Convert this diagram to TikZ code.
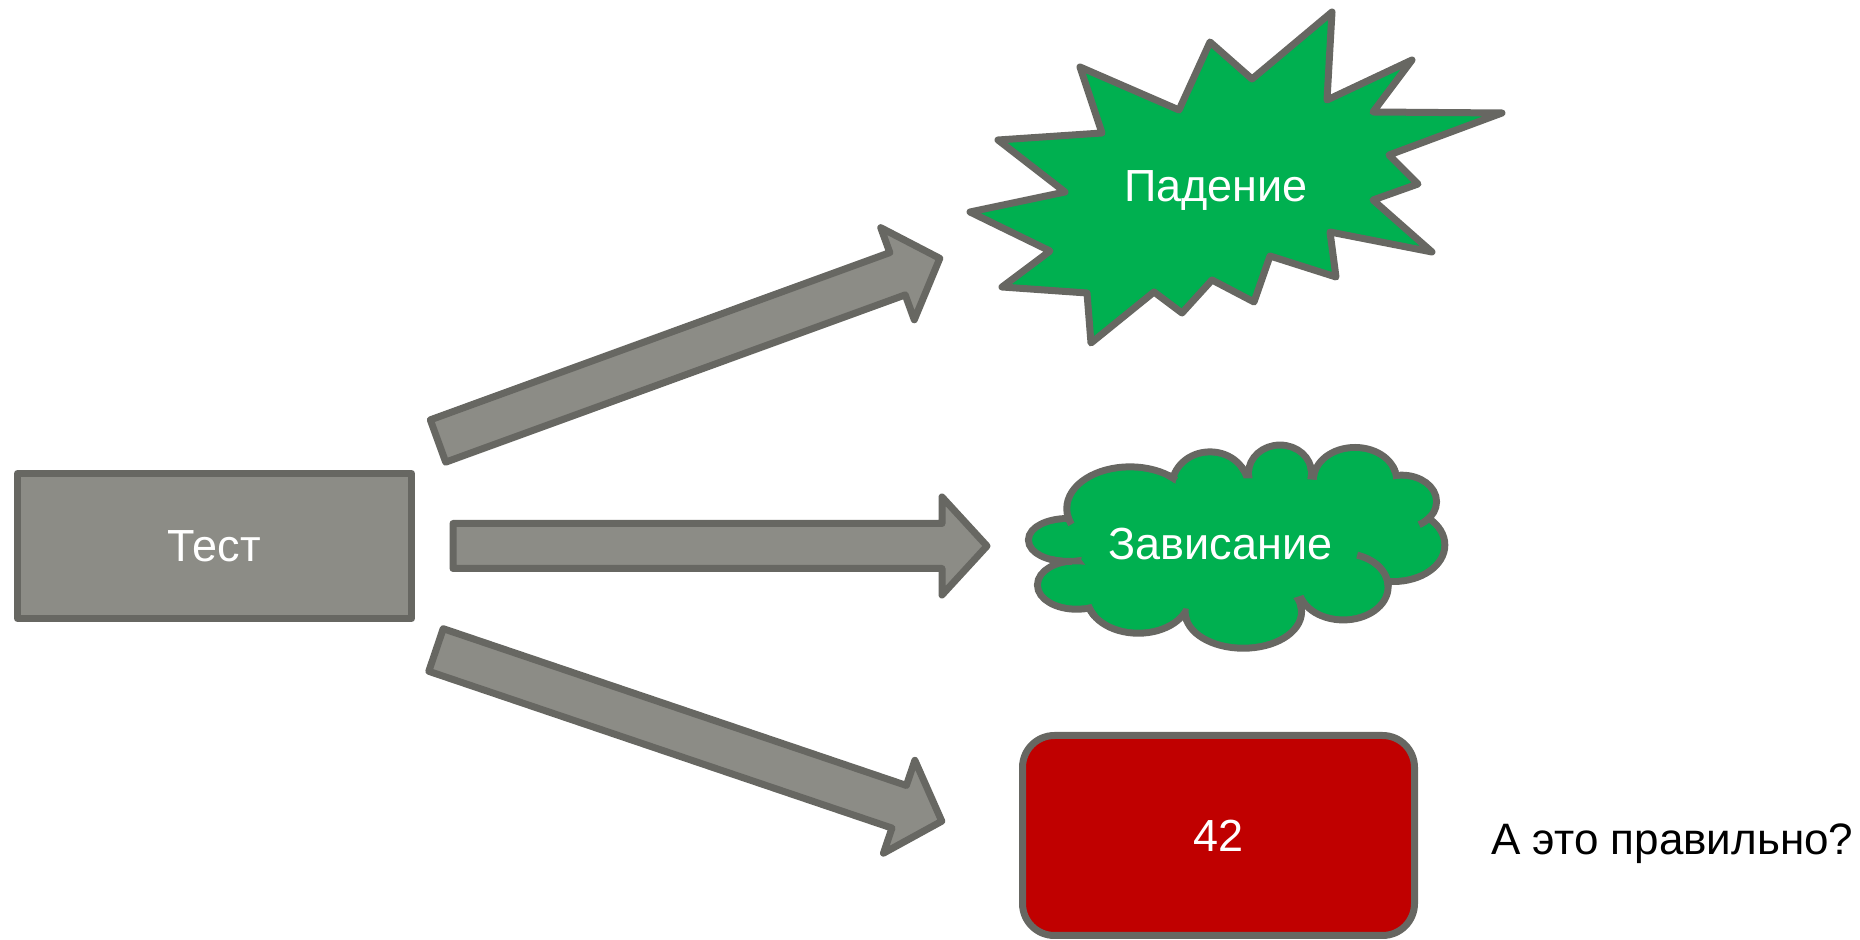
\documentclass[tikz,border=0pt]{standalone}
\usepackage{fontspec}
\setmainfont{Liberation Sans}
\definecolor{linegray}{HTML}{676762}
\definecolor{boxgray}{HTML}{8C8C86}
\definecolor{okgreen}{HTML}{00B050}
\definecolor{errred}{HTML}{C00000}
\newcommand\lbl{\fontsize{22.5pt}{27pt}\selectfont}
\newcommand\qlbl{\fontsize{22pt}{26pt}\selectfont}
\begin{document}
\begin{tikzpicture}[x=0.5pt,y=-0.5pt,
  outl/.style={draw=linegray, line width=3.5pt, line join=round},
  graybox/.style={outl, fill=boxgray, rectangle, minimum width=197pt, minimum height=72.5pt, inner sep=0pt, text=white, font=\lbl},
  redbox/.style={outl, fill=errred, rectangle, rounded corners=16pt, minimum width=196pt, minimum height=100pt, inner sep=0pt, text=white, font=\lbl},
  blockarrow/.style={outl, fill=boxgray},
  whitelbl/.style={text=white, font=\lbl, inner sep=0pt, anchor=base},
  blacklbl/.style={text=black, font=\qlbl, inner sep=0pt, anchor=base west}]
\useasboundingbox (0,0) rectangle (1860,940);

% source box
\node[graybox] (test) at (214.5,546) {Тест};

% block arrows
\coordinate (a1) at (438,441);
\coordinate (a2) at (453,546);
\coordinate (a3) at (436,650);
\foreach \c/\ang/\len in {a1/20/534, a2/0/534, a3/-18.7/534}{
  \begin{scope}[shift={(\c)}, rotate=\ang]
    \draw[blockarrow] (0,-22.5) -- (\len-45,-22.5) -- (\len-45,-49) -- (\len,0)
      -- (\len-45,49) -- (\len-45,22.5) -- (0,22.5) -- cycle;
  \end{scope}
}

% explosion
\draw[outl, fill=okgreen] (1332,12) -- (1327,100) -- (1412,60) -- (1373,112) -- (1502,113)
  -- (1389,155) -- (1418,184) -- (1373,200) -- (1432,252) -- (1330,232) -- (1336,277)
  -- (1270,256) -- (1254,302) -- (1212,280) -- (1182,313) -- (1154,292) -- (1091,343)
  -- (1087,293) -- (1002,287) -- (1050,251) -- (970,212) -- (1065,192) -- (998,140)
  -- (1102,133) -- (1080,67) -- (1179,110) -- (1210,42) -- (1252,79) -- cycle;
\node[whitelbl] (fall) at (1216,202) {Падение};

% cloud
\def\cloudlist{1068.3/540/36.3/18, 1076.7/585/35.7/20.7, 1138.3/596.7/48/33,
  1243.3/611.7/54.7/33, 1343.3/586.7/41.3/29.7, 1393.3/545/48/33,
  1401.7/501.7/31.3/23, 1355/480/38/29, 1280/473.3/28/24.7,
  1210/486.7/34.7/31.3, 1130/508.7/59.7/38.3}
\foreach \cx/\cy/\rx/\ry in \cloudlist
  \draw[linegray, line width=7pt] (\cx,\cy) ellipse [x radius=\rx, y radius=\ry];
\foreach \cx/\cy/\rx/\ry in \cloudlist
  \fill[okgreen] (\cx,\cy) ellipse [x radius=\rx, y radius=\ry];
\fill[okgreen] (1091,522.3) -- (1081.2,559.2) -- (1109.5,597.4) -- (1188.8,608.8)
  -- (1290.8,598.8) -- (1361.7,576.2) -- (1395.7,523.8) -- (1368.8,485.5)
  -- (1299.3,478.4) -- (1241.3,478.4) -- (1178.9,488.3) -- cycle;
\foreach \cx/\cy/\rx/\ry/\a/\b in {1068.3/540/36.3/18/85/117,
  1343.3/586.7/41.3/29.7/-72/0, 1401.7/501.7/31.3/23/32/60,
  1130/508.7/59.7/38.3/-53/-43, 1210/486.7/34.7/31.3/-35/-26,
  1280/473.3/28/24.7/-16/-5, 1355/480/38/29/-25/-14,
  1243.3/611.7/54.7/33/-12/5, 1243.3/611.7/54.7/33/165/177,
  1138.3/596.7/48/33/148/165, 1130/508.7/59.7/38.3/158/172}
  \draw[linegray, line width=3.5pt] plot[domain=\a:\b, samples=16, smooth]
    ({\cx+(\rx+3.5)*cos(\x)},{\cy+(\ry+3.5)*sin(\x)});
\node[whitelbl] (hang) at (1220.5,560) {Зависание};

% result box
\node[redbox] (res) at (1218.5,835.5) {42};
\node[blacklbl] (q) at (1491,855) {А это правильно?};
\end{tikzpicture}
\end{document}
